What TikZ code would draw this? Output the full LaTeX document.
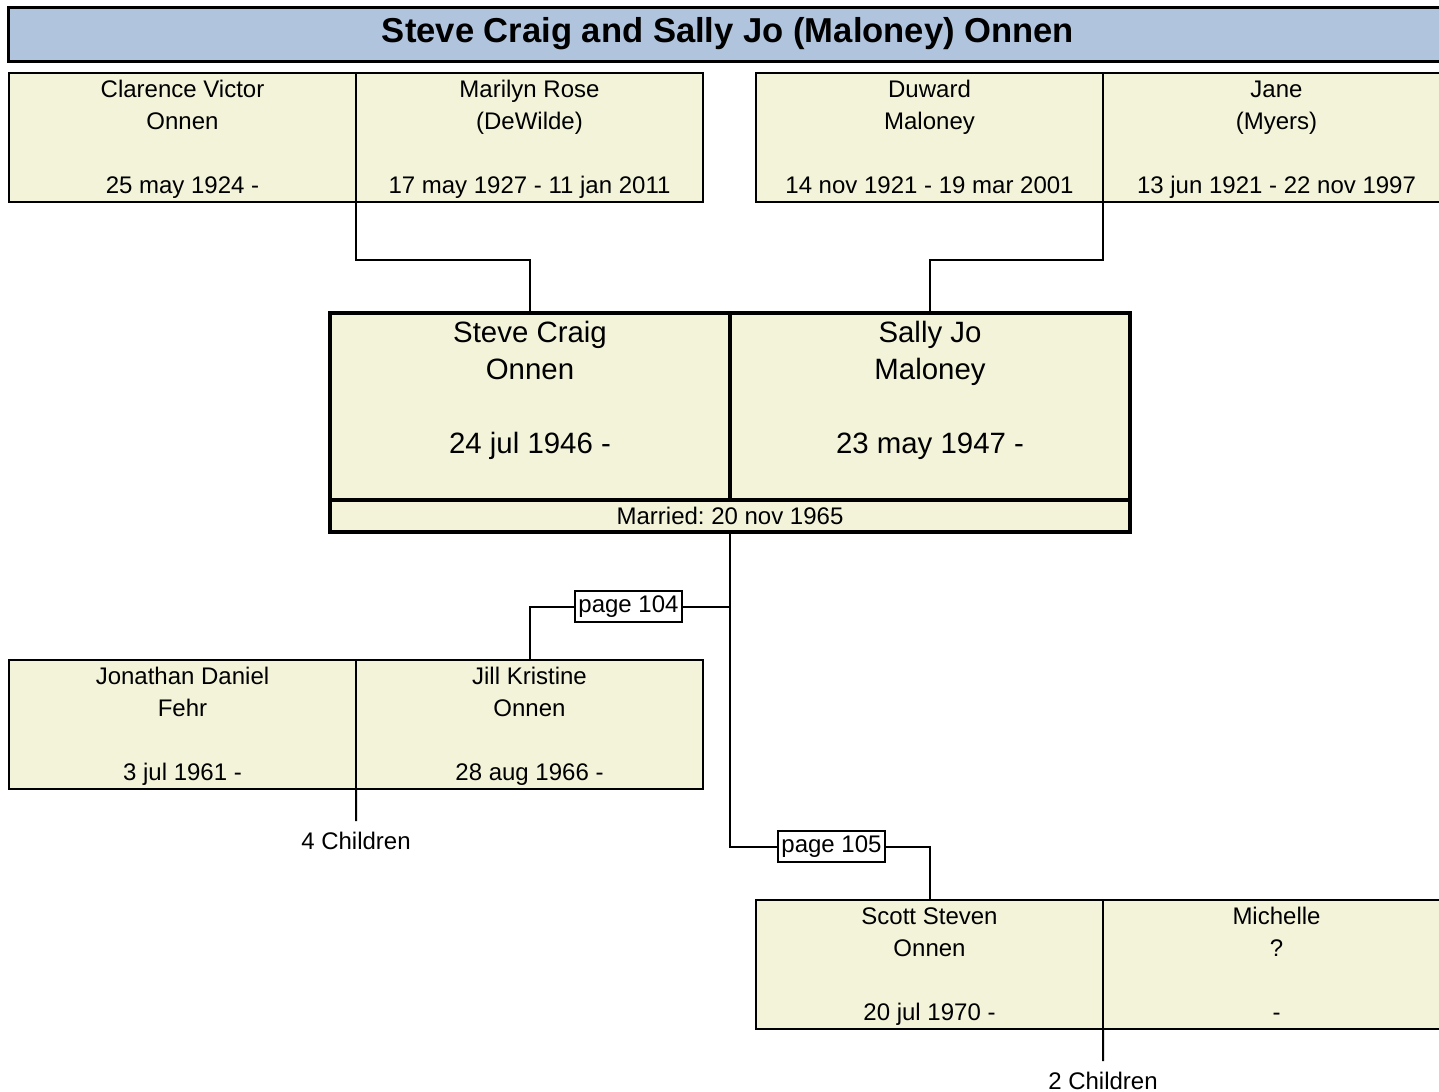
\documentclass[tikz,border=0pt]{standalone}
\usepackage{fontspec}
\setmainfont{Liberation Sans}
\usetikzlibrary{calc}
\definecolor{cream}{RGB}{243,243,218}
\definecolor{titleblue}{RGB}{176,196,222}
\frenchspacing
\begin{document}
\begin{tikzpicture}[x=1bp,y=-1bp,
  pbox/.style={draw, line width=2bp, fill=cream, minimum width=347bp, minimum height=129bp, inner sep=0pt, outer sep=0pt, anchor=north west},
  ptext/.style={anchor=north, align=center, inner xsep=0pt, inner ysep=7.3bp, font=\fontsize{24bp}{32bp}\selectfont},
  cbox/.style={draw, line width=3.5bp, fill=cream, minimum width=400bp, minimum height=187bp, inner sep=0pt, outer sep=0pt, anchor=north west},
  ctext/.style={anchor=north, align=center, inner xsep=0pt, inner ysep=7.5bp, font=\fontsize{29.4bp}{37.3bp}\selectfont},
  mbox/.style={draw, line width=3.5bp, fill=cream, minimum width=800bp, minimum height=32bp, inner sep=0pt, outer sep=0pt, anchor=north west, font=\fontsize{24bp}{28bp}\selectfont},
  pagebox/.style={draw, line width=2bp, fill=white, minimum width=107bp, minimum height=31bp, inner sep=0pt, outer sep=0pt, font=\fontsize{24bp}{28bp}\selectfont},
  countlbl/.style={anchor=north, inner xsep=0pt, inner ysep=11bp, outer sep=0pt, font=\fontsize{24bp}{28bp}\selectfont},
  conn/.style={line width=2bp}]
\useasboundingbox (0,0) rectangle (1439,1091);
\clip (0,0) rectangle (1439,1091);

% title
\node[draw, line width=3bp, fill=titleblue, minimum width=1440bp, minimum height=54bp, inner sep=0pt, outer sep=0pt, anchor=north west,
      font=\bfseries\fontsize{34.6bp}{40bp}\selectfont] (title) at (8,7) {Steve Craig and Sally Jo (Maloney) Onnen};

% grandparents
\node[pbox, label={[ptext]north:{Clarence Victor\\Onnen\\[32bp]25 may 1924 -}}] (cv) at (9,73) {};
\node[pbox, label={[ptext]north:{Marilyn Rose\\(DeWilde)\\[32bp]17 may 1927 - 11 jan 2011}}] (mr) at (356,73) {};
\node[pbox, label={[ptext]north:{Duward\\Maloney\\[32bp]14 nov 1921 - 19 mar 2001}}] (dm) at (756,73) {};
\node[pbox, label={[ptext]north:{\vphantom{l}Jane\\(Myers)\\[32bp]13 jun 1921 - 22 nov 1997}}] (jm) at (1103,73) {};

% couple
\node[cbox, label={[ctext]north:{Steve Craig\\Onnen\\[37.3bp]24 jul 1946 -}}] (sc) at (330,313) {};
\node[cbox, label={[ctext]north:{Sally Jo\\Maloney\\[37.3bp]23 may 1947 -}}] (sj) at (730,313) {};
\node[mbox] (mar) at (330,500) {Married: 20 nov 1965};

% children
\node[pbox, label={[ptext]north:{Jonathan Daniel\\Fehr\\[32bp]3 jul 1961 -}}] (jd) at (9,660) {};
\node[pbox, label={[ptext]north:{Jill Kristine\\Onnen\\[32bp]28 aug 1966 -}}] (jk) at (356,660) {};
\node[pbox, label={[ptext]north:{Scott Steven\\Onnen\\[32bp]20 jul 1970 -}}] (ss) at (756,900) {};
\node[pbox, label={[ptext]north:{Michelle\\?\\[32bp]-}}] (mi) at (1103,900) {};

% page boxes
\node[pagebox] (p104) at (628.5,606.5) {page 104};
\node[pagebox] (p105) at (831.5,846.5) {page 105};

% children count
\node[countlbl] (c4) at (356,821) {4 Children};
\node[countlbl] (c2) at (1103,1061) {2 Children};

% connectors
\draw[conn] (cv.south east) -- ++(0,58) -| (sc.north);
\draw[conn] (dm.south east) -- ++(0,58) -| (sj.north);
\draw[conn] (mar.south) |- (p105.west);
\draw[conn] (p104.east) -- (p104.east -| mar.south);
\draw[conn] (p104.west) -| (jk.north);
\draw[conn] (p105.east) -| (ss.north);
\draw[conn] (jd.south east) -- (c4.north);
\draw[conn] (ss.south east) -- (c2.north);
\end{tikzpicture}
\end{document}
